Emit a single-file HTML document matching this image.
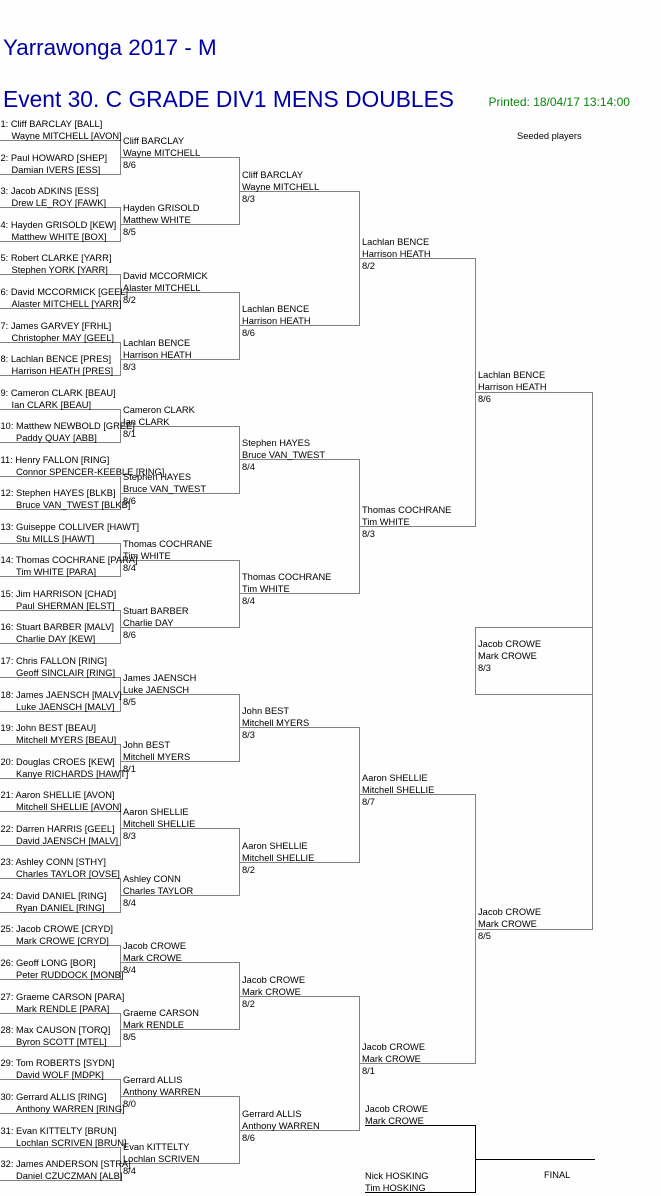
<!DOCTYPE html>
<html>
<head>
<meta charset="utf-8">
<style>
html,body{margin:0;padding:0;background:#fdfefd;}
body{width:661px;height:1196px;overflow:hidden;}
svg{display:block;}
text{font-family:"Liberation Sans",Arial,sans-serif;font-size:9.3px;fill:#000;}
.t1{font-size:22.4px;fill:#0000a8;}
.t2{font-size:22.8px;fill:#0000a8;}
.pr{font-size:12px;fill:#0a850a;}
</style>
</head>
<body>
<svg width="661" height="1196" viewBox="0 0 661 1196" xmlns="http://www.w3.org/2000/svg">
<text class="t1" x="3" y="55">Yarrawonga 2017 - M</text>
<text class="t2" x="3" y="107">Event 30. C GRADE DIV1 MENS DOUBLES</text>
<text class="pr" x="488.5" y="106">Printed: 18/04/17 13:14:00</text>
<text x="517" y="139">Seeded players</text>

<g fill="none" stroke="#808080" stroke-width="1" shape-rendering="crispEdges">
<path d="M0 140.5H120.5V174.5H0"/>
<path d="M0 207.5H120.5V241.5H0"/>
<path d="M0 274.5H120.5V308.5H0"/>
<path d="M0 342.5H120.5V375.5H0"/>
<path d="M0 409.5H120.5V442.5H0"/>
<path d="M0 476.5H120.5V509.5H0"/>
<path d="M0 543.5H120.5V576.5H0"/>
<path d="M0 610.5H120.5V643.5H0"/>
<path d="M0 677.5H120.5V711.5H0"/>
<path d="M0 744.5H120.5V778.5H0"/>
<path d="M0 811.5H120.5V845.5H0"/>
<path d="M0 878.5H120.5V912.5H0"/>
<path d="M0 945.5H120.5V979.5H0"/>
<path d="M0 1013.5H120.5V1046.5H0"/>
<path d="M0 1079.5H120.5V1113.5H0"/>
<path d="M0 1147.5H120.5V1180.5H0"/>
<path d="M120.5 157.5H239.5V224.5H120.5"/>
<path d="M120.5 292.5H239.5V359.5H120.5"/>
<path d="M120.5 426.5H239.5V493.5H120.5"/>
<path d="M120.5 560.5H239.5V627.5H120.5"/>
<path d="M120.5 694.5H239.5V761.5H120.5"/>
<path d="M120.5 828.5H239.5V895.5H120.5"/>
<path d="M120.5 962.5H239.5V1029.5H120.5"/>
<path d="M120.5 1096.5H239.5V1163.5H120.5"/>
<path d="M239.5 191.5H359.5V325.5H239.5"/>
<path d="M239.5 459.5H359.5V593.5H239.5"/>
<path d="M239.5 727.5H359.5V862.5H239.5"/>
<path d="M239.5 996.5H359.5V1130.5H239.5"/>
<path d="M359.5 258.5H475.5V526.5H359.5"/>
<path d="M359.5 794.5H475.5V1063.5H359.5"/>
<path d="M475.5 392.5H592.5V929.5H475.5"/>
<path d="M592.5 627.5H475.5V694.5H592.5"/>
</g>
<g fill="none" stroke="#000" stroke-width="1" shape-rendering="crispEdges">
<path d="M365 1125.5H475.5V1192.5H365"/>
<path d="M475.5 1159.5H595"/>
</g>

<text x="0.5" y="127">1: Cliff BARCLAY [BALL]</text><text x="11.5" y="139">Wayne MITCHELL [AVON]</text>
<text x="0.5" y="161">2: Paul HOWARD [SHEP]</text><text x="11.5" y="173">Damian IVERS [ESS]</text>
<text x="0.5" y="194">3: Jacob ADKINS [ESS]</text><text x="11.5" y="206">Drew LE_ROY [FAWK]</text>
<text x="0.5" y="228">4: Hayden GRISOLD [KEW]</text><text x="11.5" y="240">Matthew WHITE [BOX]</text>
<text x="0.5" y="261">5: Robert CLARKE [YARR]</text><text x="11.5" y="273">Stephen YORK [YARR]</text>
<text x="0.5" y="295">6: David MCCORMICK [GEEL]</text><text x="11.5" y="307">Alaster MITCHELL [YARR]</text>
<text x="0.5" y="329">7: James GARVEY [FRHL]</text><text x="11.5" y="341">Christopher MAY [GEEL]</text>
<text x="0.5" y="362">8: Lachlan BENCE [PRES]</text><text x="11.5" y="374">Harrison HEATH [PRES]</text>
<text x="0.5" y="396">9: Cameron CLARK [BEAU]</text><text x="11.5" y="408">Ian CLARK [BEAU]</text>
<text x="0.5" y="429">10: Matthew NEWBOLD [GREE]</text><text x="16" y="441">Paddy QUAY [ABB]</text>
<text x="0.5" y="463">11: Henry FALLON [RING]</text><text x="16" y="475">Connor SPENCER-KEEBLE [RING]</text>
<text x="0.5" y="496">12: Stephen HAYES [BLKB]</text><text x="16" y="508">Bruce VAN_TWEST [BLKB]</text>
<text x="0.5" y="530">13: Guiseppe COLLIVER [HAWT]</text><text x="16" y="542">Stu MILLS [HAWT]</text>
<text x="0.5" y="563">14: Thomas COCHRANE [PARA]</text><text x="16" y="575">Tim WHITE [PARA]</text>
<text x="0.5" y="597">15: Jim HARRISON [CHAD]</text><text x="16" y="609">Paul SHERMAN [ELST]</text>
<text x="0.5" y="630">16: Stuart BARBER [MALV]</text><text x="16" y="642">Charlie DAY [KEW]</text>
<text x="0.5" y="664">17: Chris FALLON [RING]</text><text x="16" y="676">Geoff SINCLAIR [RING]</text>
<text x="0.5" y="698">18: James JAENSCH [MALV]</text><text x="16" y="710">Luke JAENSCH [MALV]</text>
<text x="0.5" y="731">19: John BEST [BEAU]</text><text x="16" y="743">Mitchell MYERS [BEAU]</text>
<text x="0.5" y="765">20: Douglas CROES [KEW]</text><text x="16" y="777">Kanye RICHARDS [HAWT]</text>
<text x="0.5" y="798">21: Aaron SHELLIE [AVON]</text><text x="16" y="810">Mitchell SHELLIE [AVON]</text>
<text x="0.5" y="832">22: Darren HARRIS [GEEL]</text><text x="16" y="844">David JAENSCH [MALV]</text>
<text x="0.5" y="865">23: Ashley CONN [STHY]</text><text x="16" y="877">Charles TAYLOR [OVSE]</text>
<text x="0.5" y="899">24: David DANIEL [RING]</text><text x="16" y="911">Ryan DANIEL [RING]</text>
<text x="0.5" y="932">25: Jacob CROWE [CRYD]</text><text x="16" y="944">Mark CROWE [CRYD]</text>
<text x="0.5" y="966">26: Geoff LONG [BOR]</text><text x="16" y="978">Peter RUDDOCK [MONB]</text>
<text x="0.5" y="1000">27: Graeme CARSON [PARA]</text><text x="16" y="1012">Mark RENDLE [PARA]</text>
<text x="0.5" y="1033">28: Max CAUSON [TORQ]</text><text x="16" y="1045">Byron SCOTT [MTEL]</text>
<text x="0.5" y="1066">29: Tom ROBERTS [SYDN]</text><text x="16" y="1078">David WOLF [MDPK]</text>
<text x="0.5" y="1100">30: Gerrard ALLIS [RING]</text><text x="16" y="1112">Anthony WARREN [RING]</text>
<text x="0.5" y="1134">31: Evan KITTELTY [BRUN]</text><text x="16" y="1146">Lochlan SCRIVEN [BRUN]</text>
<text x="0.5" y="1167">32: James ANDERSON [STRA]</text><text x="16" y="1179">Daniel CZUCZMAN [ALB]</text>

<text x="123" y="144">Cliff BARCLAY</text><text x="123" y="156">Wayne MITCHELL</text><text x="123" y="168">8/6</text>
<text x="123" y="211">Hayden GRISOLD</text><text x="123" y="223">Matthew WHITE</text><text x="123" y="235">8/5</text>
<text x="123" y="279">David MCCORMICK</text><text x="123" y="291">Alaster MITCHELL</text><text x="123" y="303">8/2</text>
<text x="123" y="346">Lachlan BENCE</text><text x="123" y="358">Harrison HEATH</text><text x="123" y="370">8/3</text>
<text x="123" y="413">Cameron CLARK</text><text x="123" y="425">Ian CLARK</text><text x="123" y="437">8/1</text>
<text x="123" y="480">Stephen HAYES</text><text x="123" y="492">Bruce VAN_TWEST</text><text x="123" y="504">8/6</text>
<text x="123" y="547">Thomas COCHRANE</text><text x="123" y="559">Tim WHITE</text><text x="123" y="571">8/4</text>
<text x="123" y="614">Stuart BARBER</text><text x="123" y="626">Charlie DAY</text><text x="123" y="638">8/6</text>
<text x="123" y="681">James JAENSCH</text><text x="123" y="693">Luke JAENSCH</text><text x="123" y="705">8/5</text>
<text x="123" y="748">John BEST</text><text x="123" y="760">Mitchell MYERS</text><text x="123" y="772">8/1</text>
<text x="123" y="815">Aaron SHELLIE</text><text x="123" y="827">Mitchell SHELLIE</text><text x="123" y="839">8/3</text>
<text x="123" y="882">Ashley CONN</text><text x="123" y="894">Charles TAYLOR</text><text x="123" y="906">8/4</text>
<text x="123" y="949">Jacob CROWE</text><text x="123" y="961">Mark CROWE</text><text x="123" y="973">8/4</text>
<text x="123" y="1016">Graeme CARSON</text><text x="123" y="1028">Mark RENDLE</text><text x="123" y="1040">8/5</text>
<text x="123" y="1083">Gerrard ALLIS</text><text x="123" y="1095">Anthony WARREN</text><text x="123" y="1107">8/0</text>
<text x="123" y="1150">Evan KITTELTY</text><text x="123" y="1162">Lochlan SCRIVEN</text><text x="123" y="1174">8/4</text>

<text x="242" y="178">Cliff BARCLAY</text><text x="242" y="190">Wayne MITCHELL</text><text x="242" y="202">8/3</text>
<text x="242" y="312">Lachlan BENCE</text><text x="242" y="324">Harrison HEATH</text><text x="242" y="336">8/6</text>
<text x="242" y="446">Stephen HAYES</text><text x="242" y="458">Bruce VAN_TWEST</text><text x="242" y="470">8/4</text>
<text x="242" y="580">Thomas COCHRANE</text><text x="242" y="592">Tim WHITE</text><text x="242" y="604">8/4</text>
<text x="242" y="714">John BEST</text><text x="242" y="726">Mitchell MYERS</text><text x="242" y="738">8/3</text>
<text x="242" y="849">Aaron SHELLIE</text><text x="242" y="861">Mitchell SHELLIE</text><text x="242" y="873">8/2</text>
<text x="242" y="983">Jacob CROWE</text><text x="242" y="995">Mark CROWE</text><text x="242" y="1007">8/2</text>
<text x="242" y="1117">Gerrard ALLIS</text><text x="242" y="1129">Anthony WARREN</text><text x="242" y="1141">8/6</text>

<text x="362" y="245">Lachlan BENCE</text><text x="362" y="257">Harrison HEATH</text><text x="362" y="269">8/2</text>
<text x="362" y="513">Thomas COCHRANE</text><text x="362" y="525">Tim WHITE</text><text x="362" y="537">8/3</text>
<text x="362" y="781">Aaron SHELLIE</text><text x="362" y="793">Mitchell SHELLIE</text><text x="362" y="805">8/7</text>
<text x="362" y="1050">Jacob CROWE</text><text x="362" y="1062">Mark CROWE</text><text x="362" y="1074">8/1</text>

<text x="478" y="378">Lachlan BENCE</text><text x="478" y="390">Harrison HEATH</text><text x="478" y="402">8/6</text>
<text x="478" y="915">Jacob CROWE</text><text x="478" y="927">Mark CROWE</text><text x="478" y="939">8/5</text>

<text x="478" y="647">Jacob CROWE</text><text x="478" y="659">Mark CROWE</text><text x="478" y="671">8/3</text>

<text x="365" y="1112">Jacob CROWE</text><text x="365" y="1124">Mark CROWE</text>
<text x="365" y="1179">Nick HOSKING</text><text x="365" y="1191">Tim HOSKING</text>
<text x="544" y="1178">FINAL</text>
</svg>
</body>
</html>
